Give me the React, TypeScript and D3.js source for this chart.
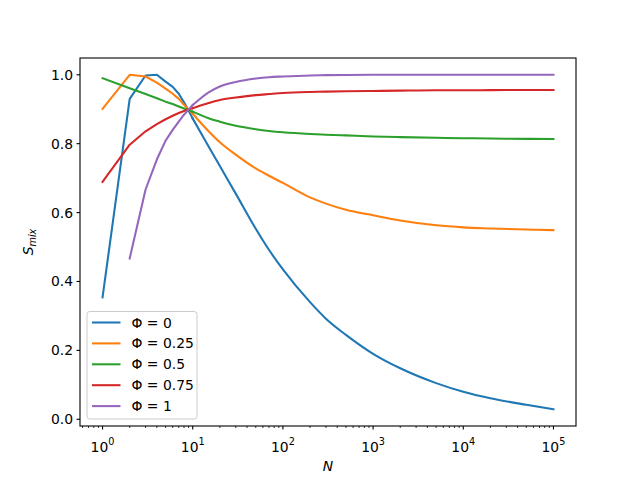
import * as d3 from "d3"

// sample sizes (x values, log axis)
const nValues = [1, 2, 3, 4, 5, 6, 7, 8, 9, 10, 15, 20, 30, 50, 70, 100, 200, 300, 500, 1000, 2000, 5000, 10000, 20000, 50000, 100000]

// S_mix for each Φ
const phiLabels = ["0", "0.25", "0.5", "0.75", "1"]
const sPhi0 = [0.354, 0.93, 0.998, 1.0, 0.98, 0.965, 0.945, 0.92, 0.896, 0.873, 0.792, 0.735, 0.655, 0.553, 0.492, 0.435, 0.34, 0.292, 0.245, 0.19, 0.148, 0.105, 0.08, 0.061, 0.042, 0.029]
const sPhi025 = [0.901, 1.0, 0.995, 0.977, 0.96, 0.945, 0.93, 0.913, 0.899, 0.887, 0.836, 0.804, 0.768, 0.728, 0.707, 0.686, 0.644, 0.626, 0.608, 0.592, 0.577, 0.563, 0.557, 0.554, 0.551, 0.549]
const sPhi05 = [0.99, 0.961, 0.944, 0.932, 0.922, 0.915, 0.908, 0.902, 0.897, 0.893, 0.874, 0.864, 0.852, 0.842, 0.837, 0.833, 0.828, 0.826, 0.824, 0.821, 0.819, 0.817, 0.816, 0.815, 0.814, 0.8135]
const sPhi075 = [0.689, 0.797, 0.836, 0.857, 0.871, 0.881, 0.889, 0.895, 0.899, 0.903, 0.918, 0.927, 0.934, 0.941, 0.944, 0.947, 0.95, 0.951, 0.952, 0.953, 0.954, 0.955, 0.955, 0.9555, 0.956, 0.956]
const sPhi1 = [NaN, 0.467, 0.667, 0.754, 0.809, 0.84, 0.864, 0.884, 0.899, 0.912, 0.949, 0.966, 0.979, 0.989, 0.993, 0.995, 0.998, 0.999, 0.9995, 1.0, 1.0, 1.0, 1.0, 1.0, 1.0, 1.0]

const seriesValues = [sPhi0, sPhi025, sPhi05, sPhi075, sPhi1]
const colors = ["#1f77b4", "#ff7f0e", "#2ca02c", "#d62728", "#9467bd"]
const yTicks = [0, 0.2, 0.4, 0.6, 0.8, 1.0]
const xTickExps = [0, 1, 2, 3, 4, 5]

const font = "DejaVu Sans, sans-serif"

// integer steps up to N=10 are straight segments, the rest is a smooth curve
const splitIndex = 9

export default function App() {
  const margin = { top: 58, right: 64, bottom: 54, left: 80 }
  const width = 640
  const height = 480
  const innerW = width - margin.left - margin.right
  const innerH = height - margin.top - margin.bottom

  const x = d3
    .scaleLog()
    .domain([Math.pow(10, -0.25), Math.pow(10, 5.25)])
    .range([0, innerW])

  const y = d3.scaleLinear().domain([-0.0195, 1.0487]).range([innerH, 0])

  const lineHead = d3
    .line<[number, number]>()
    .defined((d) => !isNaN(d[1]))
    .x((d) => x(d[0]))
    .y((d) => y(d[1]))
    .curve(d3.curveLinear)

  const lineTail = d3
    .line<[number, number]>()
    .x((d) => x(d[0]))
    .y((d) => y(d[1]))
    .curve(d3.curveMonotoneX)

  // minor ticks 2..9 of each decade inside domain
  const minorTicks: number[] = []
  for (let e = -1; e <= 5; e++) {
    for (let m = 2; m <= 9; m++) {
      const v = m * Math.pow(10, e)
      if (v >= x.domain()[0] && v <= x.domain()[1]) minorTicks.push(v)
    }
  }

  const legendX = 7
  const legendY = 253.5

  return (
    <svg width={width} height={height} style={{ position: "absolute", left: 0, top: 0, background: "white" }}>
      <g transform={`translate(${margin.left},${margin.top})`}>
        {/* lines */}
        {seriesValues.map((vals, i) => {
          const pts = nValues.map((n, j) => [n, vals[j]] as [number, number])
          const head = lineHead(pts.slice(0, splitIndex + 1)) || ""
          const tail = lineTail(pts.slice(splitIndex)) || ""
          return (
            <g key={i}>
              <path d={head} fill="none" stroke={colors[i]} strokeWidth={2.08} strokeLinejoin="round" strokeLinecap="square" />
              <path d={tail} fill="none" stroke={colors[i]} strokeWidth={2.08} strokeLinejoin="round" strokeLinecap="square" />
            </g>
          )
        })}

        {/* frame */}
        <rect x={0} y={0} width={innerW} height={innerH} fill="none" stroke="black" strokeWidth={1.1} />

        {/* y ticks */}
        {yTicks.map((t) => (
          <g key={t} transform={`translate(0,${y(t)})`}>
            <line x1={-3.5} x2={0} stroke="black" strokeWidth={1.1} />
            <text x={-7} dy="0.36em" textAnchor="end" fontFamily={font} fontSize={13.9}>
              {t.toFixed(1)}
            </text>
          </g>
        ))}

        {/* x major ticks */}
        {xTickExps.map((e) => {
          const px = x(Math.pow(10, e))
          return (
            <g key={e} transform={`translate(${px},${innerH})`}>
              <line y1={0} y2={3.5} stroke="black" strokeWidth={1.1} />
              <text y={26} textAnchor="middle" fontFamily={font} fontSize={13.9}>
                10
                <tspan dy={-7} fontSize={9.7}>
                  {e}
                </tspan>
              </text>
            </g>
          )
        })}

        {/* x minor ticks */}
        {minorTicks.map((v) => (
          <line key={v} x1={x(v)} x2={x(v)} y1={innerH} y2={innerH + 2} stroke="black" strokeWidth={0.8} />
        ))}

        {/* axis labels */}
        <text x={innerW / 2} y={innerH + 45} textAnchor="middle" fontFamily={font} fontSize={13.9} fontStyle="italic">
          N
        </text>
        <text transform={`translate(-47,${innerH / 2}) rotate(-90)`} textAnchor="middle" fontFamily={font} fontSize={13.9} fontStyle="italic">
          S
          <tspan dy={3} fontSize={9.7}>
            mix
          </tspan>
        </text>

        {/* legend */}
        <g transform={`translate(${legendX},${legendY})`}>
          <rect x={0} y={0} width={110} height={107.5} rx={2.8} fill="white" fillOpacity={0.8} stroke="#cccccc" strokeWidth={1} />
          {phiLabels.map((lab, i) => (
            <g key={lab} transform={`translate(0,${11 + i * 20.9})`}>
              <line x1={5} x2={33.5} stroke={colors[i]} strokeWidth={2.08} />
              <text x={44.5} dy="0.36em" fontFamily={font} fontSize={13.9}>
                {`Φ = ${lab}`}
              </text>
            </g>
          ))}
        </g>
      </g>
    </svg>
  )
}
